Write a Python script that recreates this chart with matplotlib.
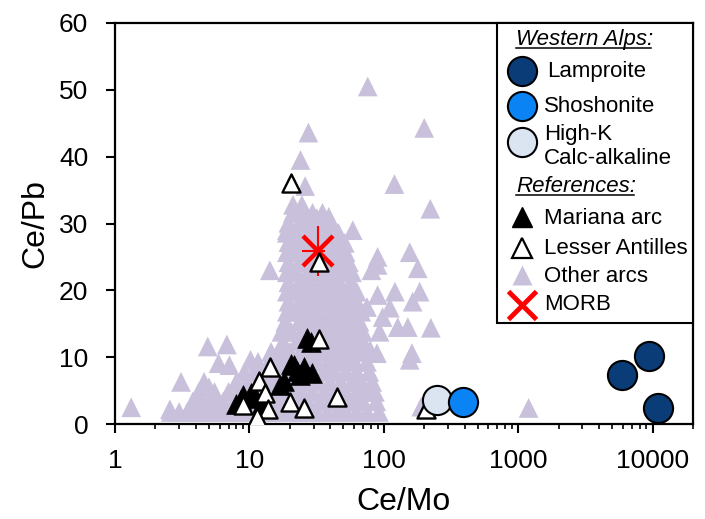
import matplotlib
matplotlib.use('Agg')
import matplotlib.pyplot as plt
from matplotlib.patches import Rectangle
from matplotlib.ticker import LogLocator, NullFormatter, FixedLocator, FixedFormatter

plt.rcParams['font.family'] = ['Liberation Sans', 'DejaVu Sans']

# ---------------- data ----------------
# Western Alps
lamproite_x = [5890, 9340, 10900]
lamproite_y = [7.3, 10.2, 2.4]
shoshonite_x = [387]
shoshonite_y = [3.3]
highk_x = [248]
highk_y = [3.6]

# Mariana arc
mariana_x = [27.0, 28.8, 20.3, 22.8, 25.6, 29.2, 16.8, 18.2, 9.0, 10.2, 7.9, 8.6, 11.2, 12.4, 21.5, 24.0]
mariana_y = [12.9, 12.2, 9.0, 8.0, 8.6, 7.6, 5.8, 6.4, 4.4, 4.6, 3.0, 3.7, 3.9, 3.2, 8.8, 7.3]

# Lesser Antilles
antilles_x = [20.5, 33.0, 33.0, 14.2, 11.8, 13.0, 9.0, 13.8, 11.3, 19.9, 25.6, 44.6, 205]
antilles_y = [36.1, 24.2, 12.7, 8.6, 6.4, 4.6, 2.8, 2.2, 1.0, 3.3, 2.4, 4.0, 2.2]

# MORB
morb_x = [32.3]
morb_y = [25.9]
morb_yerr = [3.8]
morb_xerr_lo = [7.5]
morb_xerr_hi = [4.0]

# Other arcs
other_x = [
    # outliers
    76, 27.5, 200, 24, 26, 120, 222, 21.1, 24.6, 31.8, 39, 58.8, 51.3, 19, 14.2, 90, 156, 1197, 1.32, 190,
    # scattered right group
    179, 90, 81, 121, 185, 90, 164, 111, 127, 151, 224, 93, 162, 156, 79, 89, 98, 75,
    # scattered left group
    4.9, 6.8, 5.9, 7.1, 10.2, 3.1, 4.6, 5.0, 2.56,
    # dense core
    21, 25, 29.5, 35,
    19.5, 23.5, 28, 33.5, 40,
    19, 22.5, 27, 32, 38.5, 46,
    19.5, 23.5, 28, 33.5, 40, 48,
    19, 22.5, 27, 32, 38.5, 45, 52,
    19.5, 23.5, 28, 33.5, 40, 47, 55,
    19, 22.5, 27, 32, 38.5, 45, 52, 58,
    19.5, 23.5, 28, 33.5, 40, 47, 57,
    19, 22.5, 27, 32, 38.5, 45, 53, 63,
    19.5, 23.5, 28, 33.5, 40, 47, 56, 63,
    19, 22.5, 27, 32, 38.5, 45, 53, 61, 68,
    18.5, 23.5, 28, 33.5, 40, 47, 56, 66,
    17.3, 20.5, 24.5, 29.5, 35.5, 42, 50, 59, 70,
    17.8, 22.5, 27, 32, 38.5, 45, 53, 61, 70,
    14.5, 17, 20, 24, 29, 34.5, 41, 48, 56, 64, 72,
    11.6, 14, 16.5, 19, 22.5, 27, 32, 38.5, 45, 53, 61, 75,
    9.2, 11, 13.5, 16, 20.4, 24.6, 29.7, 36, 43, 52, 63, 78,
    8, 9.6, 11.6, 14, 16.5, 18.7, 22.5, 27.2, 33, 40, 48, 58, 68, 82,
    4.2, 5.5, 7, 8.5, 10.4, 12.6, 15.2, 17, 20.4, 24.6, 29.7, 36, 43, 52, 63, 74, 86,
    3.8, 4.5, 5.4, 6.4, 7.8, 9.4, 11.3, 13.6, 16.5, 18.7, 22.5, 27.2, 33, 40, 48, 58, 70, 88,
    2.6, 3.0, 3.45, 4.0, 4.7, 5.5, 6.4, 7.5, 8.8, 10.3, 12, 14, 16.5, 19.5, 23, 27.2, 32, 38, 45, 53, 63, 75, 92,
]
other_y = [
    50.5, 43.6, 44.3, 39.5, 35.6, 35.9, 32.2, 32.8, 32.8, 30.8, 31.0, 29.0, 27.1, 29.0, 23.0, 25.0, 25.7, 2.4, 2.5, 2.6,
    23.3, 23.8, 23.0, 19.8, 19.8, 19.3, 18.3, 17.4, 14.5, 14.5, 14.4, 13.8, 10.6, 9.6, 11.1, 10.6, 16.0, 17.5,
    11.6, 11.9, 9.1, 8.8, 9.6, 6.3, 6.3, 5.5, 2.2,
    31.6, 31.6, 31.6, 31.6,
    30.1, 30.1, 30.1, 30.1, 30.1,
    28.6, 28.6, 28.6, 28.6, 28.6, 28.6,
    27.2, 27.2, 27.2, 27.2, 27.2, 27.2,
    25.7, 25.7, 25.7, 25.7, 25.7, 25.7, 25.7,
    24.2, 24.2, 24.2, 24.2, 24.2, 24.2, 24.2,
    22.7, 22.7, 22.7, 22.7, 22.7, 22.7, 22.7, 22.7,
    21.2, 21.2, 21.2, 21.2, 21.2, 21.2, 21.2,
    19.8, 19.8, 19.8, 19.8, 19.8, 19.8, 19.8, 19.8,
    18.3, 18.3, 18.3, 18.3, 18.3, 18.3, 18.3, 18.3,
    16.8, 16.8, 16.8, 16.8, 16.8, 16.8, 16.8, 16.8, 16.8,
    15.3, 15.3, 15.3, 15.3, 15.3, 15.3, 15.3, 15.3,
    13.8, 13.8, 13.8, 13.8, 13.8, 13.8, 13.8, 13.8, 13.8,
    12.3, 12.3, 12.3, 12.3, 12.3, 12.3, 12.3, 12.3, 12.3,
    10.8, 10.8, 10.8, 10.8, 10.8, 10.8, 10.8, 10.8, 10.8, 10.8, 10.8,
    9.3, 9.3, 9.3, 9.3, 9.3, 9.3, 9.3, 9.3, 9.3, 9.3, 9.3, 9.3,
    7.8, 7.8, 7.8, 7.8, 7.8, 7.8, 7.8, 7.8, 7.8, 7.8, 7.8, 7.8,
    6.3, 6.3, 6.3, 6.3, 6.3, 6.3, 6.3, 6.3, 6.3, 6.3, 6.3, 6.3, 6.3, 6.3,
    4.8, 4.8, 4.8, 4.8, 4.8, 4.8, 4.8, 4.8, 4.8, 4.8, 4.8, 4.8, 4.8, 4.8, 4.8, 4.8, 4.8,
    3.4, 3.4, 3.4, 3.4, 3.4, 3.4, 3.4, 3.4, 3.4, 3.4, 3.4, 3.4, 3.4, 3.4, 3.4, 3.4, 3.4, 3.4,
    1.8, 1.8, 1.8, 1.8, 1.8, 1.8, 1.8, 1.8, 1.8, 1.8, 1.8, 1.8, 1.8, 1.8, 1.8, 1.8, 1.8, 1.8, 1.8, 1.8, 1.8, 1.8, 1.8,
]

x_ticks = [1, 10, 100, 1000, 10000]
x_ticklabels = ['1', '10', '100', '1000', '10000']
y_ticks = [0, 10, 20, 30, 40, 50, 60]

# colours
c_other = '#c9c1db'
c_lamp = '#0a3c78'
c_shosh = '#0a84f5'
c_highk = '#dbe5f1'

# ---------------- figure ----------------
fig = plt.figure(figsize=(7.05, 5.19), dpi=100)
ax = fig.add_axes([115/705, 95/519, 578/705, 401/519])

tri_s = 14.2 ** 2
ax.scatter(other_x, other_y, marker='^', s=tri_s, c=c_other, edgecolors='none', zorder=2)
ax.errorbar(morb_x, morb_y, yerr=morb_yerr, xerr=[morb_xerr_lo, morb_xerr_hi], fmt='x',
            color='#ff0000', ms=21, mew=3.2, elinewidth=1.5, capsize=0, zorder=3)
ax.scatter(mariana_x, mariana_y, marker='^', s=tri_s, c='black', edgecolors='black', linewidths=0.5, zorder=4)
ax.scatter(antilles_x, antilles_y, marker='^', s=13 ** 2, c='white', edgecolors='black', linewidths=1.7, zorder=5)
circ_s = 21 ** 2
ax.scatter(highk_x, highk_y, s=circ_s, c=c_highk, edgecolors='black', linewidths=1.5, zorder=6)
ax.scatter(shoshonite_x, shoshonite_y, s=circ_s, c=c_shosh, edgecolors='black', linewidths=1.5, zorder=6)
ax.scatter(lamproite_x, lamproite_y, s=circ_s, c=c_lamp, edgecolors='black', linewidths=1.5, zorder=6)

ax.set_xscale('log')
ax.set_xlim(1, 20000)
ax.set_ylim(0, 60)
ax.xaxis.set_major_locator(FixedLocator(x_ticks))
ax.xaxis.set_major_formatter(FixedFormatter(x_ticklabels))
ax.xaxis.set_minor_locator(LogLocator(base=10, subs=[2, 3, 4, 5, 6, 7, 8, 9], numticks=20))
ax.xaxis.set_minor_formatter(NullFormatter())
ax.set_yticks(y_ticks)
ax.tick_params(which='major', direction='out', length=6.3, width=1.5, labelsize=19)
ax.tick_params(axis='x', which='major', pad=12)
ax.tick_params(axis='y', which='major', pad=13)
ax.tick_params(which='minor', direction='out', length=3.8, width=1.2)
for sp in ax.spines.values():
    sp.set_linewidth(1.6)

ax.set_xlabel('Ce/Mo', fontsize=23, labelpad=10)
ax.set_ylabel('Ce/Pb', fontsize=23, labelpad=6)

# ---------------- legend (manual) ----------------
T = ax.transAxes
ax.add_patch(Rectangle((0.661, 0.252), 0.339, 0.748, transform=T, facecolor='white',
                       edgecolor='black', linewidth=1.5, zorder=10, clip_on=False))
fs = 16
mx = 0.704
tx = 0.742
hdr1 = ax.text(0.694, 0.958, 'Western Alps:', transform=T, fontsize=fs, style='italic',
               va='center', ha='left', zorder=11)
ax.plot([mx], [0.880], 'o', ms=21, mfc=c_lamp, mec='black', mew=1.5, transform=T, zorder=11, clip_on=False)
ax.text(tx + 0.006, 0.880, 'Lamproite', transform=T, fontsize=fs, va='center', ha='left', zorder=11)
ax.plot([mx], [0.793], 'o', ms=21, mfc=c_shosh, mec='black', mew=1.5, transform=T, zorder=11, clip_on=False)
ax.text(tx, 0.793, 'Shoshonite', transform=T, fontsize=fs, va='center', ha='left', zorder=11)
ax.plot([mx], [0.703], 'o', ms=21, mfc=c_highk, mec='black', mew=1.5, transform=T, zorder=11, clip_on=False)
ax.text(tx, 0.722, 'High-K', transform=T, fontsize=fs, va='center', ha='left', zorder=11)
ax.text(tx, 0.662, 'Calc-alkaline', transform=T, fontsize=fs, va='center', ha='left', zorder=11)
hdr2 = ax.text(0.694, 0.592, 'References:', transform=T, fontsize=fs, style='italic',
               va='center', ha='left', zorder=11)
ax.plot([mx], [0.516], '^', ms=15, mfc='black', mec='black', transform=T, zorder=11, clip_on=False)
ax.text(tx, 0.512, 'Mariana arc', transform=T, fontsize=fs, va='center', ha='left', zorder=11)
ax.plot([mx], [0.440], '^', ms=14, mfc='white', mec='black', mew=1.6, transform=T, zorder=11, clip_on=False)
ax.text(tx, 0.437, 'Lesser Antilles', transform=T, fontsize=fs, va='center', ha='left', zorder=11)
ax.plot([mx], [0.372], '^', ms=15, mfc=c_other, mec='none', transform=T, zorder=11, clip_on=False)
ax.text(tx, 0.367, 'Other arcs', transform=T, fontsize=fs, va='center', ha='left', zorder=11)
ax.plot([mx], [0.298], 'x', ms=20, mec='#ff0000', mew=3.5, transform=T, zorder=11, clip_on=False)
ax.text(tx, 0.297, 'MORB', transform=T, fontsize=fs, va='center', ha='left', zorder=11)

fig.canvas.draw()
inv = T.inverted()
for h, yline in ((hdr1, 0.938), (hdr2, 0.571)):
    bb = h.get_window_extent()
    (x0, _), (x1, _) = inv.transform([(bb.x0, bb.y0), (bb.x1, bb.y1)])
    ax.plot([x0, x1 - 0.004], [yline, yline], color='black', lw=1.1, transform=T, zorder=11, clip_on=False)

fig.savefig('out.png', dpi=100)
